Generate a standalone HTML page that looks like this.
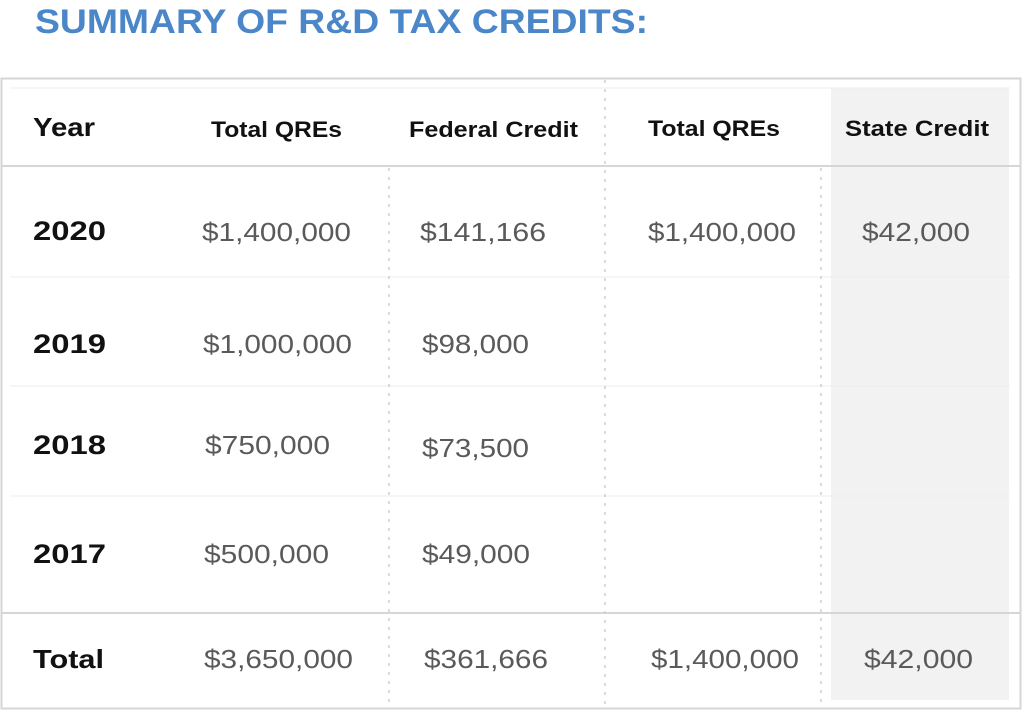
<!DOCTYPE html><html><head><style>
body{margin:0;width:1024px;height:717px;background:#fff;overflow:hidden}
svg{display:block}
</style></head><body>
<svg width="1024" height="717" font-family="Liberation Sans, sans-serif">
<text x="35" y="33" fill="#4a86c8" font-weight="bold" font-size="34" textLength="613" lengthAdjust="spacingAndGlyphs">SUMMARY OF R&amp;D TAX CREDITS:</text>
<rect x="831" y="88" width="178" height="612" fill="#f2f2f2"/>
<rect x="1.5" y="78.5" width="1019" height="630" fill="none" stroke="#d6d6d6" stroke-width="2"/>
<line x1="2" y1="166" x2="1020" y2="166" stroke="#d6d6d6" stroke-width="2"/>
<line x1="2" y1="613" x2="1020" y2="613" stroke="#d6d6d6" stroke-width="2"/>
<g stroke="#eeeeee" stroke-width="1">
<line x1="10" y1="277" x2="1010" y2="277"/><line x1="10" y1="386" x2="1010" y2="386"/><line x1="10" y1="496" x2="1010" y2="496"/><line x1="10" y1="88" x2="1010" y2="88"/>
</g>
<g stroke="#cfcfcf" stroke-width="1.5" stroke-dasharray="3,6">
<line x1="389" y1="168" x2="389" y2="705"/>
<line x1="605" y1="80" x2="605" y2="705"/>
<line x1="821" y1="168" x2="821" y2="705"/>
</g>
<g font-weight="bold" fill="#111" font-size="22" lengthAdjust="spacingAndGlyphs">
<text x="33" y="136" font-size="26" textLength="62" lengthAdjust="spacingAndGlyphs">Year</text>
<text x="211" y="137" textLength="131" lengthAdjust="spacingAndGlyphs">Total QREs</text>
<text x="409" y="137" textLength="169" lengthAdjust="spacingAndGlyphs">Federal Credit</text>
<text x="648" y="136" textLength="132" lengthAdjust="spacingAndGlyphs">Total QREs</text>
<text x="845" y="136" textLength="144" lengthAdjust="spacingAndGlyphs">State Credit</text>
</g>
<g font-weight="bold" fill="#111" font-size="27">
<text x="33" y="240" textLength="73" lengthAdjust="spacingAndGlyphs">2020</text>
<text x="33" y="353" textLength="73" lengthAdjust="spacingAndGlyphs">2019</text>
<text x="33" y="454" textLength="73" lengthAdjust="spacingAndGlyphs">2018</text>
<text x="33" y="563" textLength="73" lengthAdjust="spacingAndGlyphs">2017</text>
<text x="33" y="668" font-size="26" textLength="71" lengthAdjust="spacingAndGlyphs">Total</text>
</g>
<g fill="#5a5a5a" font-size="26">
<text x="202" y="241" textLength="149" lengthAdjust="spacingAndGlyphs">$1,400,000</text>
<text x="420" y="241" textLength="126" lengthAdjust="spacingAndGlyphs">$141,166</text>
<text x="648" y="241" textLength="148" lengthAdjust="spacingAndGlyphs">$1,400,000</text>
<text x="862" y="241" textLength="108" lengthAdjust="spacingAndGlyphs">$42,000</text>
<text x="203" y="353" textLength="149" lengthAdjust="spacingAndGlyphs">$1,000,000</text>
<text x="422" y="353" textLength="107" lengthAdjust="spacingAndGlyphs">$98,000</text>
<text x="205" y="454" textLength="125" lengthAdjust="spacingAndGlyphs">$750,000</text>
<text x="422" y="457" textLength="107" lengthAdjust="spacingAndGlyphs">$73,500</text>
<text x="204" y="563" textLength="125" lengthAdjust="spacingAndGlyphs">$500,000</text>
<text x="422" y="563" textLength="108" lengthAdjust="spacingAndGlyphs">$49,000</text>
<text x="204" y="668" textLength="149" lengthAdjust="spacingAndGlyphs">$3,650,000</text>
<text x="424" y="668" textLength="124" lengthAdjust="spacingAndGlyphs">$361,666</text>
<text x="651" y="668" textLength="148" lengthAdjust="spacingAndGlyphs">$1,400,000</text>
<text x="864" y="668" textLength="109" lengthAdjust="spacingAndGlyphs">$42,000</text>
</g>
</svg>
</body></html>
